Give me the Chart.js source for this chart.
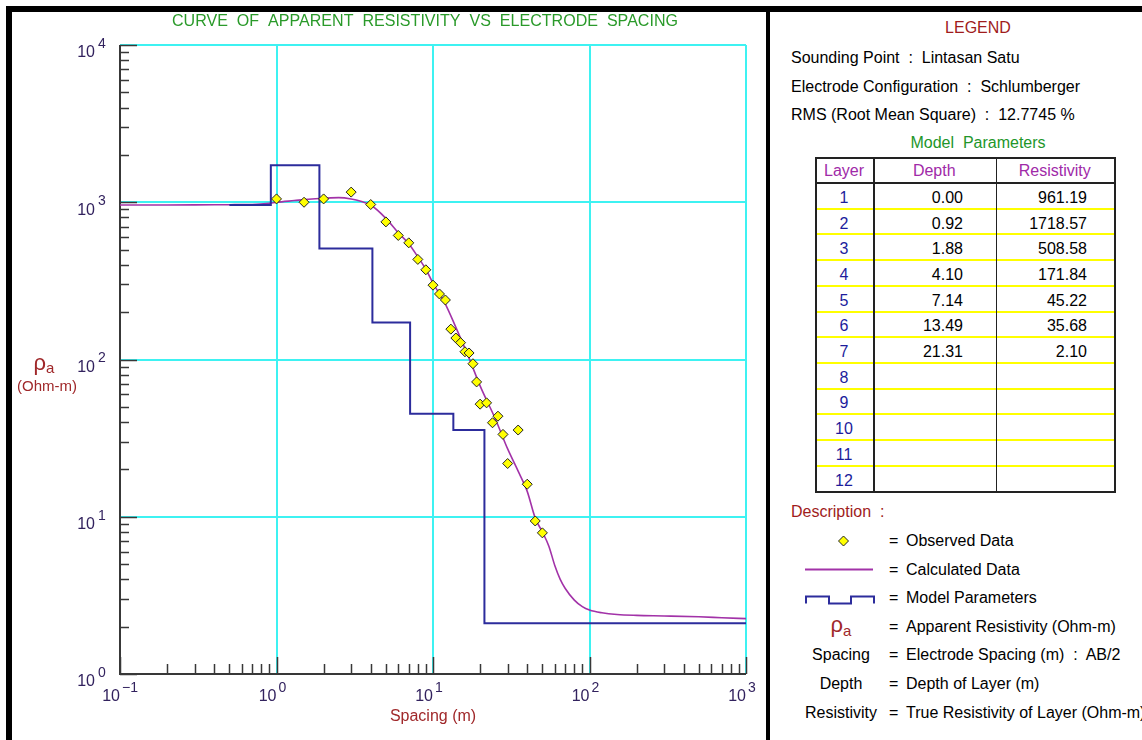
<!DOCTYPE html>
<html>
<head>
<meta charset="utf-8">
<script src="https://cdn.jsdelivr.net/npm/chart.js@4.4.0/dist/chart.umd.min.js"></script>
<style>
  body { margin: 0; background: #fff; width: 1142px; height: 740px; overflow: hidden; position: relative;
         font-family: "Liberation Sans", Arial, sans-serif; }
  #chartBox { position: absolute; left: 0; top: 0; width: 766px; height: 740px; }
  .bar { position: absolute; background: #000; }
  .t { position: absolute; white-space: pre; font-size: 16px; line-height: 20px; color: #000; }
  .line { position: absolute; }
</style>
</head>
<body>
<div id="chartBox"><canvas id="chart" width="766" height="740"></canvas></div>
<div class="bar" style="left:6px;top:6px;width:1136px;height:6px"></div>
<div class="bar" style="left:6px;top:6px;width:6px;height:734px"></div>
<div class="bar" style="left:766px;top:6px;width:4px;height:734px"></div>
<div id="panel"></div>

<script>
// axis decades
const xTicks = [0.1, 1, 10, 100, 1000];
const yTicks = [1, 10, 100, 1000, 10000];

// observed data (AB/2 in m, apparent resistivity in Ohm-m)
const obsSpacing = [1, 1.5, 2, 3, 4, 5, 6, 7, 8, 9, 10, 11, 12, 13, 14, 15, 16, 17, 18, 19,
                    20, 22, 24, 26, 28, 30, 35, 40, 45, 50];
const obsRho = [1050, 1000, 1050, 1160, 967, 750, 615, 552, 433, 372, 297, 261, 239, 156, 137, 128, 112, 110, 94, 72,
                52, 53, 39.6, 43.6, 33.4, 21.8, 35.6, 16.1, 9.4, 7.9];

// calculated curve
const calcSpacing = [0.1, 0.2, 0.3, 0.5, 0.7, 0.9, 1, 1.3, 1.6, 2, 2.5, 3, 3.5, 4, 5, 6, 7, 8, 9, 10,
                     12, 14, 17, 20, 25, 30, 35, 40, 45, 50, 55, 60, 65, 70, 80, 90, 100, 120, 150, 200,
                     300, 500, 700, 1000];
const calcRho = [961, 961, 962, 965, 968, 985, 1000, 1025, 1045, 1060, 1070, 1050, 1010, 960, 790, 640, 545, 450, 375, 306,
                 225, 160, 102, 68, 42, 27, 19.5, 14.5, 9.8, 8.0, 6.5, 4.9, 4.0, 3.5, 2.95, 2.68, 2.55, 2.45, 2.39, 2.36,
                 2.34, 2.31, 2.28, 2.25];

// model parameters
const layerNo = [1, 2, 3, 4, 5, 6, 7, 8, 9, 10, 11, 12];
const layerDepth = [0.00, 0.92, 1.88, 4.10, 7.14, 13.49, 21.31];
const layerRho = [961.19, 1718.57, 508.58, 171.84, 45.22, 35.68, 2.10];
const modelStart = 0.5;   // spacing where the model line begins
const modelEnd = 1000;

const infoLines = [
  'Sounding Point  :  Lintasan Satu',
  'Electrode Configuration  :  Schlumberger',
  'RMS (Root Mean Square)  :  12.7745 %'
];
const descNames = ['', '', '', 'ρa', 'Spacing', 'Depth', 'Resistivity'];
const descTexts = ['Observed Data', 'Calculated Data', 'Model Parameters', 'Apparent Resistivity (Ohm-m)',
                   'Electrode Spacing (m)  :  AB/2', 'Depth of Layer (m)', 'True Resistivity of Layer (Ohm-m)'];

const MAGENTA = '#a232a8';
const NAVY = '#2c2c9c';
const CYAN = '#3ef2f2';

const modelPts = layerRho.map((r, i) => ({ x: i === 0 ? modelStart : layerDepth[i], y: r }));
modelPts.push({ x: modelEnd, y: layerRho[layerRho.length - 1] });

// ticks inside the frame, axis lines, 10^n labels and title
const axisPlugin = {
  id: 'axisPlugin',
  beforeDatasetsDraw(chart) {
    const { ctx, chartArea: a, scales: { x, y } } = chart;
    ctx.save();
    ctx.strokeStyle = '#383838';
    ctx.lineWidth = 1.5;
    ctx.beginPath();
    xTicks.forEach(d => {
      for (let k = 1; k <= 9; k++) {
        const v = d * k;
        if (v > x.max * 1.0001) break;
        const px = Math.round(x.getPixelForValue(v)) + 0.5;
        const len = k === 1 ? 17 : 10;
        ctx.moveTo(px, a.bottom); ctx.lineTo(px, a.bottom - len);
      }
    });
    yTicks.forEach(d => {
      for (let k = 1; k <= 9; k++) {
        const v = d * k;
        if (v > y.max * 1.0001) break;
        const py = Math.round(y.getPixelForValue(v)) + 0.5;
        const len = k === 1 ? 17 : 9;
        ctx.moveTo(a.left, py); ctx.lineTo(a.left + len, py);
      }
    });
    ctx.stroke();
    ctx.lineWidth = 2;
    ctx.beginPath();
    ctx.moveTo(a.left, a.top); ctx.lineTo(a.left, a.bottom); ctx.lineTo(a.right, a.bottom);
    ctx.stroke();
    ctx.restore();
  },
  afterDraw(chart) {
    const { ctx, chartArea: a, scales: { x, y } } = chart;
    ctx.save();
    ctx.fillStyle = '#32225e';
    ctx.textBaseline = 'middle';
    const exp = v => String(Math.round(Math.log10(v))).replace('-', '\u2212');
    xTicks.forEach(v => {
      const px = x.getPixelForValue(v);
      ctx.font = '16px "Liberation Sans", Arial';
      ctx.textAlign = 'right';
      ctx.fillText('10', px, a.bottom + 23);
      ctx.font = '14px "Liberation Sans", Arial';
      ctx.textAlign = 'left';
      ctx.fillText(exp(v), px + 2, a.bottom + 14);
    });
    yTicks.forEach(v => {
      const py = y.getPixelForValue(v);
      ctx.font = '16px "Liberation Sans", Arial';
      ctx.textAlign = 'right';
      ctx.fillText('10', a.left - 25, py + 8);
      ctx.font = '14px "Liberation Sans", Arial';
      ctx.textAlign = 'left';
      ctx.fillText(exp(v), a.left - 22, py - 1);
    });

    // axis titles
    ctx.fillStyle = '#a0282a';
    ctx.textAlign = 'center';
    ctx.font = '16px "Liberation Sans", Arial';
    ctx.fillText('Spacing (m)', (a.left + a.right) / 2, 717);
    ctx.font = '15px "Liberation Sans", Arial';
    ctx.fillText('(Ohm-m)', 47, 387);
    ctx.font = '22px "Liberation Sans", Arial';
    ctx.textAlign = 'right';
    ctx.fillText('ρ', 46, 364);
    ctx.font = '15px "Liberation Sans", Arial';
    ctx.textAlign = 'left';
    ctx.fillText('a', 46, 369);

    // title, stretched to the original width
    const title = 'CURVE  OF  APPARENT  RESISTIVITY  VS  ELECTRODE  SPACING';
    ctx.font = '17px "Liberation Sans", Arial';
    ctx.fillStyle = '#2a9a2a';
    const w = ctx.measureText(title).width;
    ctx.translate(425, 21);
    ctx.scale(506 / w, 1);
    ctx.textAlign = 'center';
    ctx.fillText(title, 0, 0);
    ctx.restore();
  }
};

new Chart(document.getElementById('chart'), {
  type: 'scatter',
  data: {
    datasets: [
      {
        label: 'Observed Data',
        data: obsSpacing.map((s, i) => ({ x: s, y: obsRho[i] })),
        pointStyle: 'rectRot',
        pointRadius: 5,
        backgroundColor: '#ffff00',
        borderColor: '#222',
        borderWidth: 1,
        order: 0
      },
      {
        label: 'Model Parameters',
        type: 'line',
        data: modelPts,
        stepped: 'before',
        borderColor: NAVY,
        borderWidth: 2,
        pointRadius: 0,
        fill: false,
        order: 1
      },
      {
        label: 'Calculated Data',
        type: 'line',
        data: calcSpacing.map((s, i) => ({ x: s, y: calcRho[i] })),
        borderColor: MAGENTA,
        borderWidth: 1.6,
        pointRadius: 0,
        cubicInterpolationMode: 'monotone',
        fill: false,
        order: 2
      }
    ]
  },
  options: {
    responsive: false,
    animation: false,
    layout: { padding: { left: 120, right: 20, top: 45, bottom: 66 } },
    plugins: { legend: { display: false }, tooltip: { enabled: false } },
    scales: {
      x: {
        type: 'logarithmic', min: 0.1, max: 1000,
        afterBuildTicks: s => { s.ticks = xTicks.map(v => ({ value: v })); },
        ticks: { display: false },
        grid: { color: CYAN, lineWidth: 2, drawTicks: false },
        border: { display: false }
      },
      y: {
        type: 'logarithmic', min: 1, max: 10000,
        afterBuildTicks: s => { s.ticks = yTicks.map(v => ({ value: v })); },
        ticks: { display: false },
        grid: { color: CYAN, lineWidth: 2, drawTicks: false },
        border: { display: false }
      }
    }
  },
  plugins: [axisPlugin]
});

// right-hand legend panel
const panel = document.getElementById('panel');
function put(html, left, cy, style) {
  const d = document.createElement('div');
  d.className = 't';
  d.style.left = left + 'px';
  d.style.top = (cy - 10) + 'px';
  if (style) d.style.cssText += style;
  d.innerHTML = html;
  panel.appendChild(d);
  return d;
}
function box(left, top, w, h, bg) {
  const d = document.createElement('div');
  d.className = 'line';
  d.style.cssText = `left:${left}px;top:${top}px;width:${w}px;height:${h}px;background:${bg}`;
  panel.appendChild(d);
}

put('LEGEND', 878, 28, 'width:200px;text-align:center;color:#a01c1c');
infoLines.forEach((s, i) => put(s, 791, 58 + i * 28.5));
put('Model  Parameters', 878, 143, 'width:200px;text-align:center;color:#22962a');

// table
const tL = 815, tR = 1114, tTop = 157, hBot = 183, rowH = 25.7;
const tBot = hBot + rowH * layerNo.length;
const cols = [tL, 873, 995.5, tR];
for (let i = 1; i < layerNo.length; i++) box(tL + 1, hBot + rowH * i - 1, tR - tL - 1, 2, '#ffff00');
box(tL, tTop, tR - tL + 1, 1.5, '#222');
box(tL, hBot - 1, tR - tL + 1, 1.5, '#222');
box(tL, tBot, tR - tL + 1, 1.5, '#222');
cols.forEach(cx => box(cx, tTop, 1.5, tBot - tTop + 1.5, '#222'));
const heads = ['Layer', 'Depth', 'Resistivity'];
heads.forEach((h, i) => put(h, cols[i], 171, `width:${cols[i + 1] - cols[i]}px;text-align:center;color:#a02aa8`));
layerNo.forEach((n, i) => {
  const cy = hBot + rowH * i + rowH / 2 + 2;
  put(String(n), cols[0], cy, `width:${cols[1] - cols[0]}px;text-align:center;color:#1c1c9c`);
  if (i < layerDepth.length) {
    put(layerDepth[i].toFixed(2), cols[1], cy, `width:${963 - cols[1]}px;text-align:right`);
    put(layerRho[i].toFixed(2), cols[2], cy, `width:${1087 - cols[2]}px;text-align:right`);
  }
});

// description
put('Description  :', 791, 512, 'color:#a01c1c');
descTexts.forEach((s, i) => {
  const cy = 541 + i * 28.6;
  put('=', 889, cy);
  put(s, 906, cy);
  if (descNames[i] === 'ρa') {
    put('<span style="font-size:22px">ρ</span><span style="font-size:15px;position:relative;top:4px">a</span>',
        781, cy - 2, 'width:120px;text-align:center;color:#a0282a');
  } else if (descNames[i]) {
    put(descNames[i], 781, cy, 'width:120px;text-align:center');
  }
});
const sym = document.createElement('div');
sym.innerHTML = `<svg width="1142" height="740" style="position:absolute;left:0;top:0">
  <path d="M838.5 541 L843.5 536 L848.5 541 L843.5 546 Z" fill="#ffff00" stroke="#222" stroke-width="1"/>
  <line x1="805" y1="569.5" x2="873" y2="569.5" stroke="${MAGENTA}" stroke-width="1.8"/>
  <path d="M806 603.5 L806 596.5 L829 596.5 L829 603.5 L851 603.5 L851 596.5 L874 596.5 L874 603.5"
        fill="none" stroke="${NAVY}" stroke-width="2"/>
</svg>`;
panel.appendChild(sym);
</script>
</body>
</html>
